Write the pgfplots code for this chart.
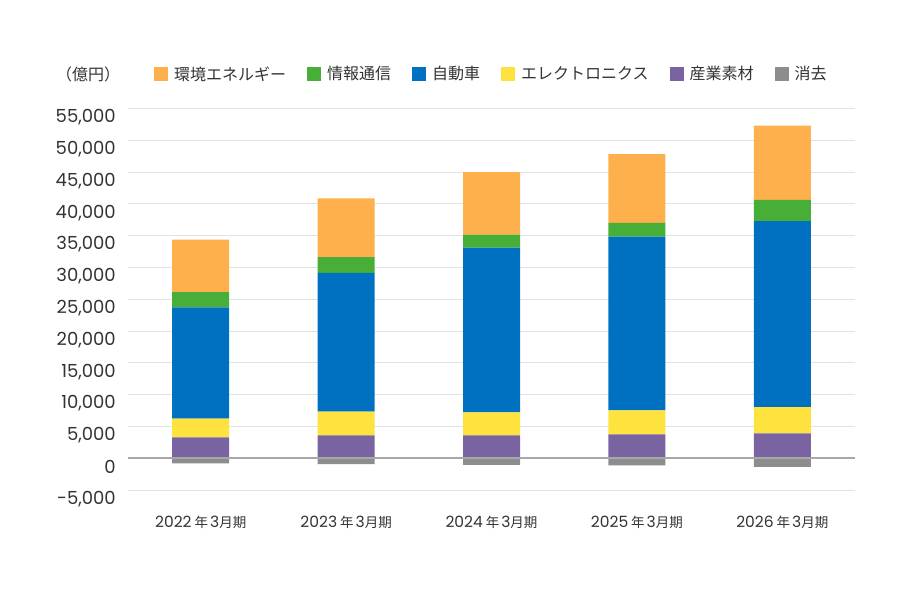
\documentclass[border=0pt]{standalone}
\usepackage{pgfplots}
\pgfplotsset{compat=1.18}
\usepackage{fontspec}
\setmainfont{Noto Sans CJK JP}
\newfontfamily\numfont{Poppins}
\definecolor{cOrange}{HTML}{FDB04C}
\definecolor{cGreen}{HTML}{47AE38}
\definecolor{cBlue}{HTML}{0071C1}
\definecolor{cYellow}{HTML}{FEE23D}
\definecolor{cPurple}{HTML}{7A63A1}
\definecolor{cGray}{HTML}{8D8D8D}
\definecolor{textgray}{HTML}{333333}
\definecolor{gridgray}{HTML}{E3E3E3}
\definecolor{zerogray}{HTML}{A8A8A8}
\newcommand\xl[1]{{\numfont\fontsize{15.5}{18}\selectfont #1}\hspace{3pt}{\fontsize{13.5}{16}\selectfont 年}\hspace{2pt}{\numfont\fontsize{15.5}{18}\selectfont 3}{\fontsize{13.5}{16}\selectfont 月期}}
\pgfplotsset{
  sq/.style={draw=none, fill=#1, legend image code/.code={\fill[#1] (0pt,-7pt) rectangle (14pt,7pt);}},
  common/.style={at={(128pt,100pt)}, anchor=south west,
    width=727pt, height=381.7pt, scale only axis,
    xmin=-0.5, xmax=4.5, ymin=-5000, ymax=55000, bar width=57pt},
}
\begin{document}
\begin{tikzpicture}
\path[use as bounding box] (0pt,0pt) rectangle (917pt,590pt);
\begin{axis}[
  common,
  ybar stacked,
  xtick={0,1,2,3,4},
  xticklabels={{\xl{2022}},{\xl{2023}},{\xl{2024}},{\xl{2025}},{\xl{2026}}},
  ytick={-5000,0,5000,10000,15000,20000,25000,30000,35000,40000,45000,50000,55000},
  yticklabels={{-5,000},{0},{5,000},{10,000},{15,000},{20,000},{25,000},{30,000},{35,000},{40,000},{45,000},{50,000},{55,000}},
  scaled y ticks=false,
  ymajorgrids, grid style={draw=gridgray, line width=0.8pt},
  axis line style={draw=none}, major tick style={draw=none},
  xticklabel style={text=textgray, anchor=center, inner sep=0pt, yshift=-32pt},
  yticklabel style={text=textgray, font=\numfont\fontsize{18}{18}\selectfont, anchor=east, inner sep=0pt, xshift=-12pt, yshift=-9pt},
  reverse legend,
  legend columns=-1,
  legend style={at={(axis description cs:0.0358,1.0899)}, anchor=west, draw=none, fill=none, inner sep=0pt, outer sep=0pt,
    font=\fontsize{16}{16}\selectfont, text=textgray,
    /tikz/every odd column/.append style={column sep=6pt},
    /tikz/every even column/.append style={column sep=21pt},
    nodes={inner sep=0pt}},
  legend cell align=left,
]
\addlegendimage{sq=cGray}
\addplot[sq=cPurple] coordinates {(0,3290) (1,3600) (2,3600) (3,3760) (4,3920)};
\addplot[sq=cYellow] coordinates {(0,2930) (1,3710) (2,3600) (3,3760) (4,4120)};
\addplot[sq=cBlue] coordinates {(0,17490) (1,21830) (2,25900) (3,27310) (4,29210)};
\addplot[sq=cGreen] coordinates {(0,2410) (1,2460) (2,2040) (3,2150) (4,3340)};
\addplot[sq=cOrange] coordinates {(0,8240) (1,9250) (2,9830) (3,10810) (4,11700)};
\legend{消去,産業素材,エレクトロニクス,自動車,情報通信,環境エネルギー}
\end{axis}
\begin{axis}[common, hide axis, ybar, bar shift=0pt]
\addplot[sq=cGray] coordinates {(0,-800) (1,-940) (2,-1050) (3,-1140) (4,-1360)};
\draw[zerogray, line width=1.6pt] (axis cs:-0.5,0) -- (axis cs:4.5,0);
\end{axis}
\node[text=textgray, font=\fontsize{16}{16}\selectfont, inner sep=0pt] at (88pt,516pt) {（億円）};
\end{tikzpicture}
\end{document}
